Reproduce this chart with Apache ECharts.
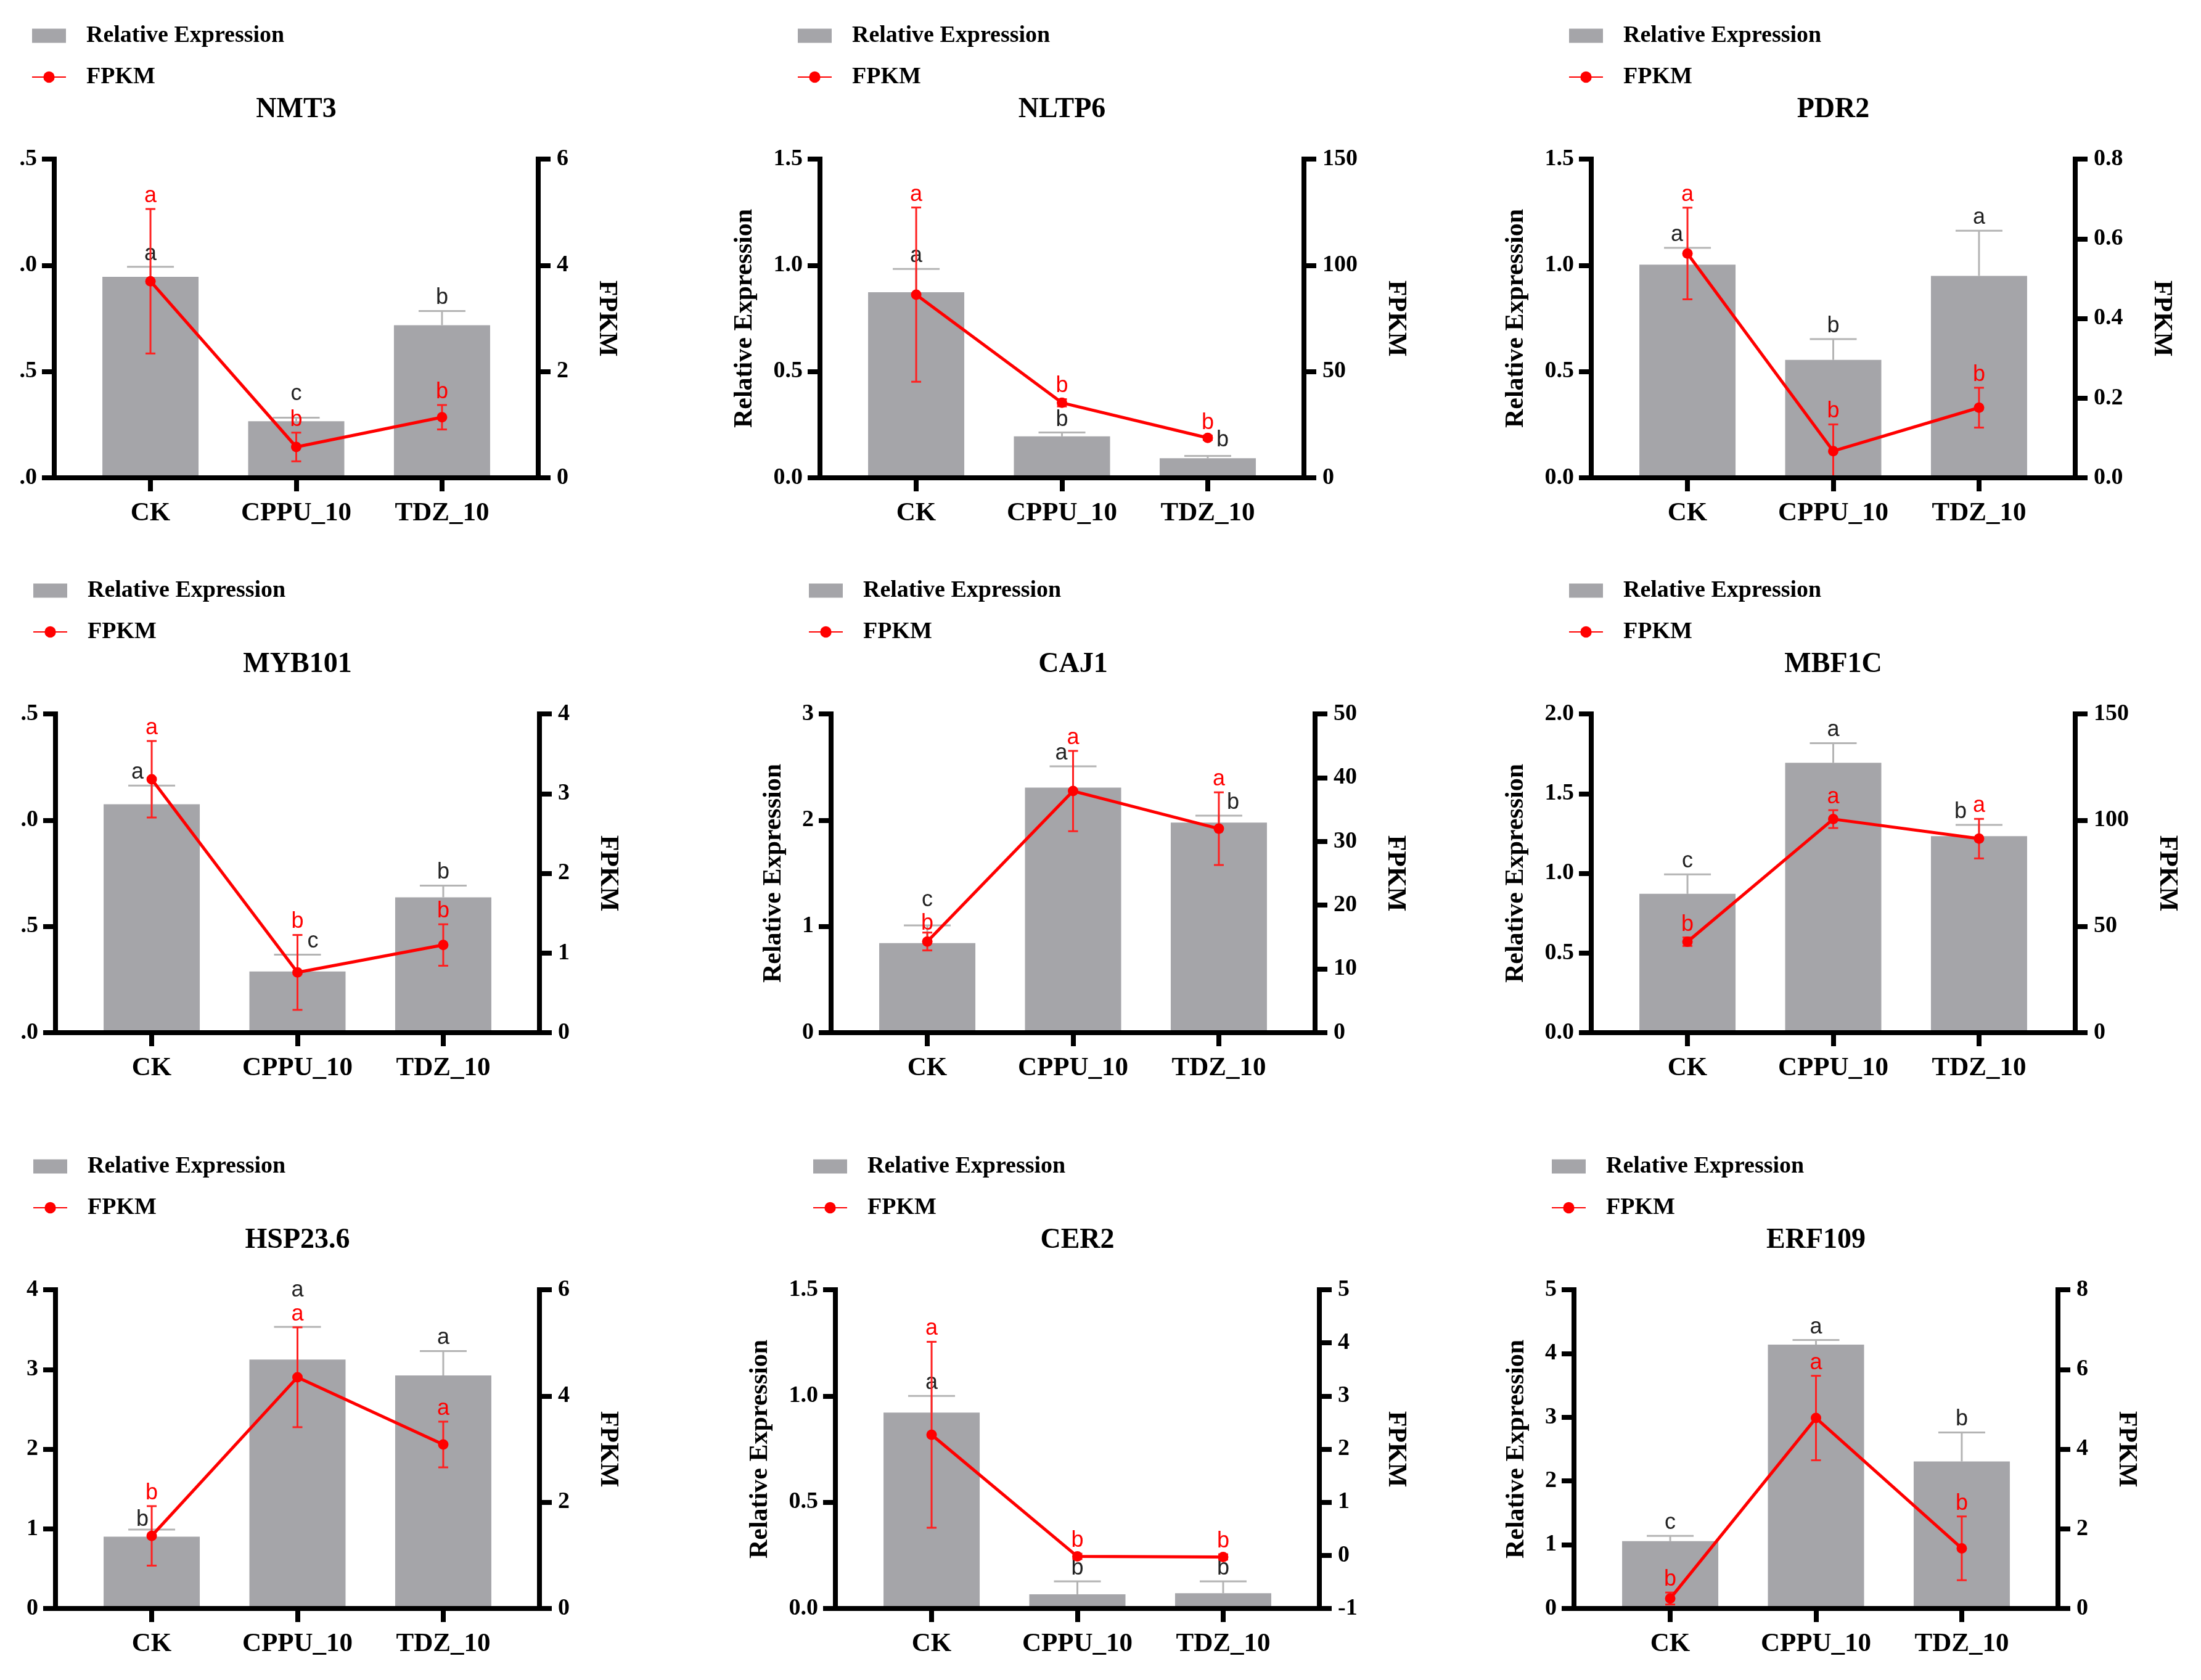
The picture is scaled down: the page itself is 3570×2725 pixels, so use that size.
<!DOCTYPE html>
<html>
<head>
<meta charset="utf-8">
<script src="https://cdn.jsdelivr.net/npm/echarts@6/dist/echarts.min.js"></script>
<style>
html, body { margin: 0; padding: 0; background: #fff; }
#chart { width: 3570px; height: 2725px; }
</style>
</head>
<body>
<div id="chart"></div>
<script>
// ---- data ----
const genes = ['NMT3', 'NLTP6', 'PDR2', 'MYB101', 'CAJ1', 'MBF1C', 'HSP23.6', 'CER2', 'ERF109'];
const groups = ['CK', 'CPPU_10', 'TDZ_10'];

const relExp = [
  [0.946, 0.266, 0.718],
  [0.873, 0.195, 0.092],
  [1.003, 0.555, 0.950],
  [1.075, 0.288, 0.637],
  [0.843, 2.307, 1.977],
  [0.871, 1.693, 1.233],
  [0.902, 3.124, 2.924],
  [0.922, 0.067, 0.072],
  [1.056, 4.139, 2.306]
];
const relSd = [
  [0.047, 0.017, 0.067],
  [0.110, 0.018, 0.011],
  [0.079, 0.098, 0.213],
  [0.088, 0.079, 0.055],
  [0.167, 0.200, 0.066],
  [0.122, 0.123, 0.071],
  [0.089, 0.409, 0.307],
  [0.078, 0.061, 0.056],
  [0.083, 0.072, 0.455]
];
const fpkm = [
  [3.70, 0.58, 1.14],
  [86.2, 35.3, 18.8],
  [0.563, 0.067, 0.176],
  [3.18, 0.756, 1.10],
  [14.3, 37.9, 32.0],
  [42.8, 100.5, 91.3],
  [1.367, 4.353, 3.087],
  [2.27, -0.02, -0.03],
  [0.25, 4.78, 1.51]
];
const fpkmSd = [
  [1.36, 0.27, 0.23],
  [41.0, 1.7, 1.0],
  [0.115, 0.067, 0.050],
  [0.48, 0.47, 0.26],
  [1.4, 6.3, 5.7],
  [2.0, 4.2, 9.3],
  [0.56, 0.94, 0.43],
  [1.75, 0.05, 0.05],
  [0.15, 1.06, 0.80]
];
const relLetters = [
  ['a', 'c', 'b'], ['a', 'b', 'b'], ['a', 'b', 'a'],
  ['a', 'c', 'b'], ['c', 'a', 'b'], ['c', 'a', 'b'],
  ['b', 'a', 'a'], ['a', 'b', 'b'], ['c', 'a', 'b']
];
const fpkmLetters = [
  ['a', 'b', 'b'], ['a', 'b', 'b'], ['a', 'b', 'b'],
  ['a', 'b', 'b'], ['b', 'a', 'a'], ['b', 'a', 'a'],
  ['b', 'a', 'a'], ['a', 'b', 'b'], ['b', 'a', 'b']
];
// axis ticks: [min, max, step]
const leftTicks = [
  [0, 1.5, 0.5], [0, 1.5, 0.5], [0, 1.5, 0.5],
  [0, 1.5, 0.5], [0, 3, 1], [0, 2, 0.5],
  [0, 4, 1], [0, 1.5, 0.5], [0, 5, 1]
];
const rightTicks = [
  [0, 6, 2], [0, 150, 50], [0, 0.8, 0.2],
  [0, 4, 1], [0, 50, 10], [0, 150, 50],
  [0, 6, 2], [-1, 5, 1], [0, 8, 2]
];

// ---- layout ----
const gridLeft = [88, 1330, 2581, 90, 1348, 2581, 90, 1355, 2553];
const rowTop = [258, 1158, 2092];
const plotW = 785, plotH = 517;
const SERIF = '"Liberation Serif", "Times New Roman", serif';
const SANS = '"Liberation Sans", Arial, sans-serif';
const BAR = '#a5a5a9';
const RED = '#ff0000';
const AXIS_W = 8;

// small nudges of the significance letters [dx, dy] (panel-kind-index)
const nudges = {
  '0-r-1': [0, -17],
  '1-r-2': [24, -4],
  '2-r-0': [-17, 0],
  '3-r-0': [-23, 0], '3-r-1': [25, 0],
  '4-r-0': [0, -20], '4-r-1': [-19, 0], '4-r-2': [23, 0], '4-f-0': [0, 6],
  '5-r-2': [-30, 0],
  '6-r-0': [-15, 5], '6-r-1': [0, -38]
};

const mctx = document.createElement('canvas').getContext('2d');
mctx.font = 'bold 38px ' + SERIF;
function decimals(step) { return step < 1 ? 1 : 0; }
function maxLabelW(t) {
  let w = 0;
  for (let v = t[0]; v <= t[1] + 1e-9; v += t[2]) {
    w = Math.max(w, mctx.measureText(v.toFixed(decimals(t[2]))).width);
  }
  return w;
}

function barRender(params, api) {
  const i = api.value(0);
  const base = api.coord([i, 0]);
  const top = api.coord([i, api.value(1)]);
  return {
    type: 'rect',
    shape: { x: base[0] - 78, y: top[1], width: 156, height: base[1] - top[1] - AXIS_W / 2 },
    style: { fill: BAR }
  };
}

function errRender(p, kind, color, capHalf, lineW, letters, txtColor, bothCaps) {
  return function (params, api) {
    const i = api.value(0);
    const lo = api.coord([i, api.value(1)]);
    const hi = api.coord([i, api.value(2)]);
    const nd = nudges[p + '-' + kind + '-' + i] || [0, 0];
    const st = { stroke: color, lineWidth: lineW };
    const ch = [
      { type: 'line', shape: { x1: hi[0], y1: lo[1], x2: hi[0], y2: hi[1] }, style: st },
      { type: 'line', shape: { x1: hi[0] - capHalf, y1: hi[1], x2: hi[0] + capHalf, y2: hi[1] }, style: st }
    ];
    if (bothCaps) {
      ch.push({ type: 'line', shape: { x1: hi[0] - capHalf, y1: lo[1], x2: hi[0] + capHalf, y2: lo[1] }, style: st });
    }
    ch.push({
      type: 'text',
      style: {
        text: letters[i], x: hi[0] + nd[0], y: hi[1] - 21 + nd[1],
        align: 'center', verticalAlign: 'middle', fill: txtColor,
        font: '36px ' + SANS
      }
    });
    return { type: 'group', children: ch };
  };
}

const grids = [], xAxes = [], yAxes = [], series = [], titles = [], legends = [];

genes.forEach(function (g, p) {
  const col = p % 3, row = Math.floor(p / 3);
  const left = gridLeft[p], top = rowTop[row];
  const lt = leftTicks[p], rt = rightTicks[p];
  const ld = decimals(lt[2]), rd = decimals(rt[2]);
  // the first column is cropped at the page edge in the figure
  const cutLead = col === 0 && ld > 0;

  grids.push({ left: left, top: top, width: plotW, height: plotH, outerBoundsMode: 'none', containLabel: false });

  titles.push({
    text: g, left: left + plotW / 2, top: top - 103, textAlign: 'center', padding: 0,
    textStyle: { fontFamily: SERIF, fontWeight: 'bold', fontSize: 46, color: '#000' }
  });

  legends.push({
    left: left - 42, top: top - 227, orient: 'vertical',
    itemWidth: 55, itemHeight: 23, itemGap: 23, selectedMode: false,
    textStyle: { fontFamily: SERIF, fontWeight: 'bold', fontSize: 38, color: '#000', lineHeight: 44, padding: [0, 0, 0, 28] },
    data: [{ name: 'Relative Expression', icon: 'rect' }, { name: 'FPKM' }]
  });

  const axisLine = { show: true, onZero: false, lineStyle: { color: '#000', width: AXIS_W, cap: 'square' } };
  xAxes.push({
    type: 'value', gridIndex: p, min: -0.66, max: 2.66, z: 10,
    splitLine: { show: false },
    axisLine: axisLine,
    axisTick: { show: true, customValues: [0, 1, 2], length: 22, lineStyle: { color: '#000', width: AXIS_W } },
    axisLabel: {
      show: true, customValues: [0, 1, 2], margin: 36,
      formatter: function (v) { return groups[Math.round(v)]; },
      fontFamily: SERIF, fontWeight: 'bold', fontSize: 43, color: '#000'
    }
  });

  const lw = maxLabelW(lt), rw = maxLabelW(rt);
  yAxes.push({
    type: 'value', gridIndex: p, position: 'left', z: 10,
    min: lt[0], max: lt[1], interval: lt[2],
    name: 'Relative Expression', nameLocation: 'middle', nameRotate: 90,
    nameGap: col === 0 ? lw + 140 : lw + 53,
    nameTextStyle: { fontFamily: SERIF, fontWeight: 'bold', fontSize: 42, color: '#000' },
    splitLine: { show: false },
    axisLine: axisLine,
    axisTick: { show: true, length: 20, lineStyle: { color: '#000', width: AXIS_W } },
    axisLabel: {
      margin: 28, fontFamily: SERIF, fontWeight: 'bold', fontSize: 38, color: '#000',
      formatter: function (v) { const s = v.toFixed(ld); return cutLead ? s.slice(1) : s; }
    }
  });
  yAxes.push({
    type: 'value', gridIndex: p, position: 'right', z: 10,
    min: rt[0], max: rt[1], interval: rt[2],
    name: 'FPKM', nameLocation: 'middle', nameRotate: -90, nameGap: rw + 71,
    nameTextStyle: { fontFamily: SERIF, fontWeight: 'bold', fontSize: 42, color: '#000' },
    splitLine: { show: false },
    axisLine: axisLine,
    axisTick: { show: true, length: 20, lineStyle: { color: '#000', width: AXIS_W } },
    axisLabel: {
      margin: 30, fontFamily: SERIF, fontWeight: 'bold', fontSize: 38, color: '#000',
      formatter: function (v) { return v.toFixed(rd); }
    }
  });

  series.push({
    type: 'custom', name: 'Relative Expression', xAxisIndex: p, yAxisIndex: 2 * p, z: 2,
    itemStyle: { color: BAR },
    encode: { x: 0, y: 1 },
    renderItem: barRender,
    data: relExp[p].map(function (v, i) { return [i, v]; })
  });
  series.push({
    type: 'custom', name: 'rel-err-' + p, xAxisIndex: p, yAxisIndex: 2 * p, clip: false, z: 3,
    encode: { x: 0, y: [1, 2] },
    renderItem: errRender(p, 'r', '#b4b4b4', 38, 3, relLetters[p], '#222', false),
    data: relExp[p].map(function (v, i) { return [i, v, v + relSd[p][i]]; })
  });
  series.push({
    type: 'custom', name: 'fpkm-err-' + p, xAxisIndex: p, yAxisIndex: 2 * p + 1, clip: false, z: 4,
    encode: { x: 0, y: [1, 2] },
    renderItem: errRender(p, 'f', '#ff2020', 8, 3, fpkmLetters[p], RED, true),
    data: fpkm[p].map(function (v, i) { return [i, v - fpkmSd[p][i], v + fpkmSd[p][i]]; })
  });
  series.push({
    type: 'line', name: 'FPKM', xAxisIndex: p, yAxisIndex: 2 * p + 1, z: 5,
    symbol: 'circle', symbolSize: 17,
    lineStyle: { color: RED, width: 5 }, itemStyle: { color: RED },
    data: fpkm[p].map(function (v, i) { return [i, v]; })
  });
});

const chart = echarts.init(document.getElementById('chart'));
chart.setOption({
  backgroundColor: '#fff',
  animation: false,
  title: titles,
  legend: legends,
  grid: grids,
  xAxis: xAxes,
  yAxis: yAxes,
  series: series
});
</script>
</body>
</html>
